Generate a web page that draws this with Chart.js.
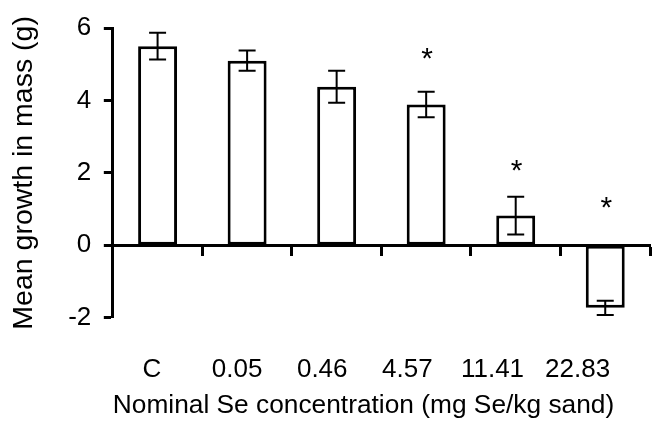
<!DOCTYPE html>
<html>
<head>
<meta charset="utf-8">
<script src="https://cdn.jsdelivr.net/npm/chart.js@4/dist/chart.umd.min.js"></script>
<style>
  html, body { margin: 0; padding: 0; background: #fff; }
  #wrap { width: 652px; height: 424px; }
</style>
</head>
<body>
<div id="wrap"><canvas id="growthChart" width="652" height="424"></canvas></div>
<script>
// concentrations (mg Se/kg sand)
const concentrations = ['C', '0.05', '0.46', '4.57', '11.41', '22.83'];
// mean growth in mass (g)
const meanGrowth = [5.5, 5.1, 4.38, 3.89, 0.82, -1.73];
// error bar half-lengths (g)
const errors = [0.37, 0.28, 0.44, 0.35, 0.52, 0.2];
// height of the significance asterisk (null = none)
const asteriskAt = [null, null, null, 5.23, 2.12, 1.1];
const yMin = -2, yMax = 6, yStep = 2;

const FONT = "'Liberation Sans', Arial, sans-serif";

// error bars + asterisks, drawn through the chart's scales
const errorBarPlugin = {
    id: 'errorBars',
    afterDatasetsDraw(chart) {
        const ctx = chart.ctx;
        const xs = chart.scales.x0;
        const ys = chart.scales.y;
        ctx.save();
        ctx.strokeStyle = '#000';
        ctx.lineWidth = 2;
        meanGrowth.forEach((v, i) => {
            const x = xs.getPixelForValue(i);
            const top = ys.getPixelForValue(v + errors[i]);
            const bot = ys.getPixelForValue(v - errors[i]);
            ctx.beginPath();
            ctx.moveTo(x, top); ctx.lineTo(x, bot);
            ctx.moveTo(x - 8.5, top); ctx.lineTo(x + 8.5, top);
            ctx.moveTo(x - 8.5, bot); ctx.lineTo(x + 8.5, bot);
            ctx.stroke();
        });
        ctx.fillStyle = '#000';
        ctx.font = '30px ' + FONT;
        ctx.textAlign = 'center';
        ctx.textBaseline = 'alphabetic';
        asteriskAt.forEach((v, i) => {
            if (v === null) return;
            ctx.fillText('*', xs.getPixelForValue(i) + 1, ys.getPixelForValue(v) + 30 * 0.39);
        });
        ctx.restore();
    }
};

const ctx = document.getElementById('growthChart').getContext('2d');
new Chart(ctx, {
    type: 'bar',
    data: {
        labels: concentrations,
        datasets: [{
            data: meanGrowth,
            backgroundColor: '#fff',
            borderColor: '#000',
            borderWidth: 3,
            borderSkipped: false,
            barPercentage: 0.435,
            categoryPercentage: 1.0,
            xAxisID: 'x0'
        }]
    },
    options: {
        responsive: false,
        animation: false,
        events: [],
        layout: { padding: { left: 7, right: 2, top: 25, bottom: 2.4 } },
        plugins: {
            legend: { display: false },
            tooltip: { enabled: false }
        },
        scales: {
            y: {
                position: 'left',
                min: yMin,
                max: yMax,
                border: { display: true, color: '#000', width: 3 },
                grid: {
                    display: true,
                    drawOnChartArea: false,
                    drawTicks: true,
                    tickLength: 9,
                    tickWidth: 3,
                    tickColor: '#000'
                },
                ticks: {
                    stepSize: yStep,
                    color: '#000',
                    padding: 12.5,
                    font: { family: FONT, size: 26 }
                },
                title: {
                    display: true,
                    text: 'Mean growth in mass (g)',
                    color: '#000',
                    font: { family: FONT, size: 28.5 },
                    padding: { top: 0, bottom: 14.5 }
                }
            },
            // label axis: the labels in the original sit a little tighter than the bars
            x: {
                type: 'linear',
                position: 'bottom',
                offset: false,
                min: -0.46,
                max: 5.85,
                border: { display: false },
                grid: {
                    display: true,
                    offset: false,
                    drawOnChartArea: false,
                    drawTicks: true,
                    tickLength: 36.4,
                    tickColor: 'rgba(0,0,0,0)'
                },
                ticks: {
                    stepSize: 1,
                    includeBounds: false,
                    autoSkip: false,
                    maxRotation: 0,
                    padding: 0,
                    color: '#000',
                    font: { family: FONT, size: 26 },
                    callback: value => concentrations[value]
                },
                title: {
                    display: true,
                    align: 'start',
                    text: 'Nominal Se concentration (mg Se/kg sand)',
                    color: '#000',
                    font: { family: FONT, size: 26.3 },
                    padding: { top: 4.8, bottom: 0 }
                }
            },
            // bar axis, drawn along the zero line
            x0: {
                type: 'category',
                position: { y: 0 },
                offset: true,
                border: { display: true, color: '#000', width: 3 },
                grid: {
                    offset: true,
                    drawOnChartArea: false,
                    drawTicks: true,
                    tickLength: 9,
                    tickWidth: 3,
                    tickColor: '#000'
                },
                ticks: { display: false }
            }
        }
    },
    plugins: [errorBarPlugin]
});
</script>
</body>
</html>
